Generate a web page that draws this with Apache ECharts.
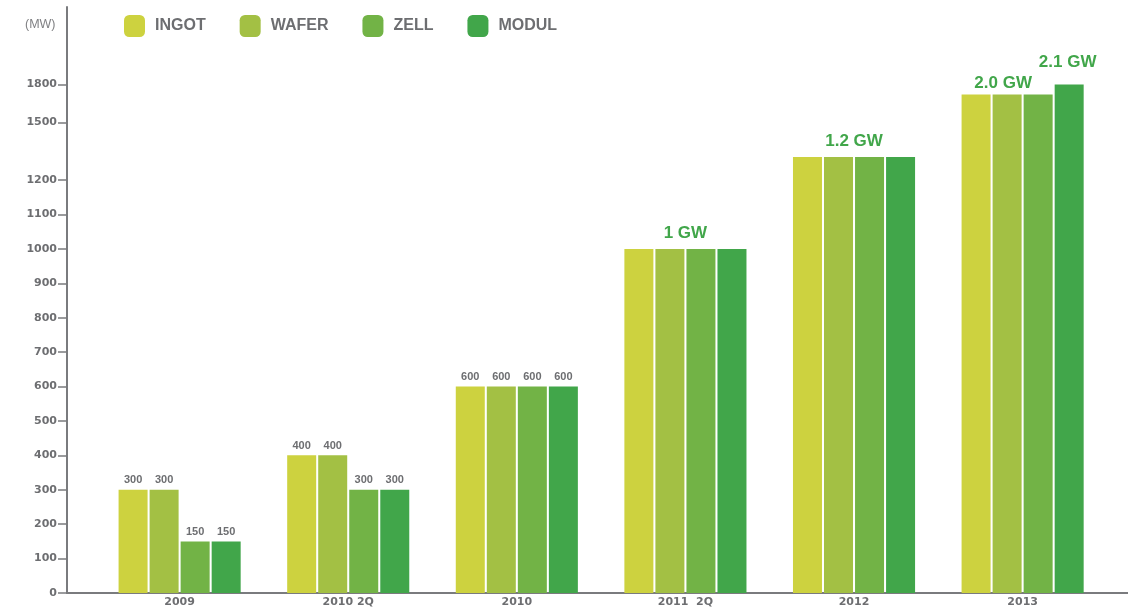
<!DOCTYPE html>
<html>
<head>
<meta charset="utf-8">
<script src="https://cdn.jsdelivr.net/npm/echarts@6/dist/echarts.min.js"></script>
<style>
  html, body { margin: 0; padding: 0; background: #ffffff; }
  #chart { width: 1128px; height: 611px; }
</style>
</head>
<body>
<div id="chart"></div>
<script>
// ---------- data ----------
const categories = ['2009', '2010 2Q', '2010', '2011  2Q', '2012', '2013'];
const seriesNames = ['INGOT', 'WAFER', 'ZELL', 'MODUL'];
const ingot = [300, 400, 600, 1000, 1320, 1720];
const wafer = [300, 400, 600, 1000, 1320, 1720];
const zell  = [150, 300, 600, 1000, 1320, 1720];
const modul = [150, 300, 600, 1000, 1320, 1800];
const groupLabels = ['', '', '', '1 GW', '1.2 GW', '2.0 GW'];   // over the whole group
const modulLabels = ['', '', '', '', '', '2.1 GW'];            // over the MODUL bar only
const showValueLabels = [true, true, true, false, false, false];
const yTickValues = [0, 100, 200, 300, 400, 500, 600, 700, 800, 900, 1000, 1100, 1200, 1500, 1800];

// ---------- broken (piecewise) y scale ----------
// real value -> axis units; above 1200 the axis is compressed
const scaleReal = [0, 1200, 1500, 1800];
const scaleAxis = [0, 1200, 1367, 1478];
function toAxis(v) {
  for (let i = 1; i < scaleReal.length; i++) {
    if (v <= scaleReal[i] || i === scaleReal.length - 1) {
      const r0 = scaleReal[i - 1], r1 = scaleReal[i];
      const a0 = scaleAxis[i - 1], a1 = scaleAxis[i];
      return a0 + (v - r0) * (a1 - a0) / (r1 - r0);
    }
  }
}
const yTickAxis = yTickValues.map(toAxis);
function axisToLabel(a) {
  let best = 0, bd = Infinity;
  yTickAxis.forEach((t, i) => { const d = Math.abs(t - a); if (d < bd) { bd = d; best = i; } });
  return String(yTickValues[best]);
}

// ---------- styles ----------
const colors = ['#cdd23f', '#a3c044', '#72b346', '#41a64a'];
const grey = '#6d6e71';
const axisGrey = '#7a7b7e';
const green = '#41a64a';

const valueLabel = {
  show: true, position: 'top', distance: 4,
  fontFamily: 'Liberation Sans', fontWeight: 'bold', fontSize: 11, color: grey
};
const bigLabel = {
  show: true, position: 'top',
  fontFamily: 'Liberation Sans', fontWeight: 'bold', fontSize: 17, color: green
};

function buildData(values, seriesIdx) {
  return values.map((v, i) => {
    const item = { value: [i, toAxis(v)], real: v };
    if (showValueLabels[i]) {
      item.label = Object.assign({}, valueLabel, { formatter: String(v) });
    } else if (seriesIdx === 1 && groupLabels[i]) {
      const lastGroup = i === categories.length - 1;
      item.label = Object.assign({}, bigLabel, {
        formatter: groupLabels[i],
        offset: lastGroup ? [-4, 0] : [15.5, 0],
        distance: lastGroup ? 3 : 7
      });
    } else if (seriesIdx === 3 && modulLabels[i]) {
      item.label = Object.assign({}, bigLabel, {
        formatter: modulLabels[i], offset: [-1.5, 0], distance: 14
      });
    }
    return item;
  });
}

const allValues = [ingot, wafer, zell, modul];
const series = seriesNames.map((name, s) => ({
  name: name,
  type: 'bar',
  barWidth: 29,
  barGap: '7%',
  itemStyle: { color: colors[s] },
  label: { show: false },
  emphasis: { disabled: true },
  data: buildData(allValues[s], s)
}));

const chart = echarts.init(document.getElementById('chart'), null, { renderer: 'canvas' });
chart.setOption({
  animation: false,
  backgroundColor: '#ffffff',
  title: {
    text: '(MW)', left: 25, top: 18, padding: 0,
    textStyle: { fontFamily: 'Liberation Sans', fontWeight: 'normal', fontSize: 12.5, color: '#808184' }
  },
  legend: {
    left: 124, top: 15, padding: 0,
    icon: 'roundRect',
    itemWidth: 21, itemHeight: 22,
    itemGap: 34,
    data: seriesNames,
    textStyle: {
      fontFamily: 'Liberation Sans', fontWeight: 'bold', fontSize: 16, color: grey,
      padding: [0, 0, 0, 5]
    },
    selectedMode: false
  },
  grid: { left: 67, right: 0, top: 7, bottom: 18, containLabel: false },
  xAxis: {
    type: 'value',
    min: -0.668, max: 5.625,
    splitLine: { show: false },
    axisTick: { show: false },
    axisLine: { show: true, onZero: false, lineStyle: { color: axisGrey, width: 2 } },
    axisLabel: {
      customValues: categories.map((c, i) => i),
      formatter: v => categories[Math.round(v)],
      margin: 4,
      fontFamily: 'DejaVu Sans', fontWeight: 'bold', fontSize: 11, color: grey
    }
  },
  yAxis: {
    type: 'value',
    min: 0, max: 1703,
    splitLine: { show: false },
    axisLine: { show: true, onZero: false, lineStyle: { color: axisGrey, width: 2 } },
    axisTick: { show: true, customValues: yTickAxis, length: 9, lineStyle: { color: axisGrey, width: 1.5 } },
    axisLabel: {
      customValues: yTickAxis,
      formatter: v => axisToLabel(v),
      margin: 10,
      fontFamily: 'DejaVu Sans', fontWeight: 'bold', fontSize: 11, color: grey
    }
  },
  series: series
});
</script>
</body>
</html>
